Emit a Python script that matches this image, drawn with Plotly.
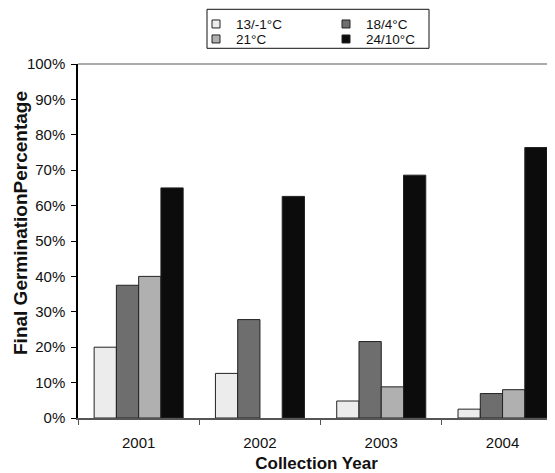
import plotly.graph_objects as go

years = ["2001", "2002", "2003", "2004"]
series_names = ["13/-1°C", "18/4°C", "21°C", "24/10°C"]
v_13_m1 = [20.0, 12.6, 4.8, 2.5]
v_18_4 = [37.5, 27.8, 21.6, 6.9]
v_21 = [40.0, None, 8.8, 8.0]
v_24_10 = [65.0, 62.6, 68.6, 76.4]
colors = ["#ececec", "#6e6e6e", "#b0b0b0", "#0c0c0c"]
y_ticks = [0, 10, 20, 30, 40, 50, 60, 70, 80, 90, 100]

FONT = "Liberation Sans, Arial, sans-serif"

OFF = 8  # page body margin
W, H = 555 - OFF, 473 - OFF
ML, MR, MT, MB = 78 - OFF, 0, 64 - OFF, 55
PW = W - ML - MR
PH = H - MT - MB


def px_x(p):
    return (p - OFF - ML) / PW


def px_y(p):
    return (H - MB - (p - OFF)) / PH


fig = go.Figure()
all_vals = [v_13_m1, v_18_4, v_21, v_24_10]
for name, vals, col in zip(series_names, all_vals, colors):
    fig.add_trace(go.Bar(
        x=years, y=vals, name=name,
        marker=dict(color=col, line=dict(color="#222222", width=1)),
        showlegend=False,
    ))

legend_ids = ["legend", "legend2", "legend3", "legend4"]
legend_pos = [(196, 24.2), (326, 24.2), (196, 39.2), (326, 39.2)]
for name, col, lid in zip(series_names, colors, legend_ids):
    fig.add_trace(go.Scatter(
        x=[None], y=[None], mode="markers", name=name,
        marker=dict(symbol="square", size=8, color=col,
                    line=dict(color="#222222", width=1)),
        legend=lid, showlegend=True,
    ))

legend_layout = {}
for lid, (lx, ly) in zip(legend_ids, legend_pos):
    legend_layout[lid] = dict(
        x=px_x(lx), y=px_y(ly), xanchor="left", yanchor="middle",
        orientation="v", bgcolor="rgba(0,0,0,0)", borderwidth=0,
        font=dict(family=FONT, size=13.5, color="#111111"),
        itemclick=False, itemdoubleclick=False,
    )

fig.update_layout(
    width=W, height=H,
    margin=dict(l=ML, r=MR, t=MT, b=MB, autoexpand=False),
    paper_bgcolor="white", plot_bgcolor="white",
    barmode="group", bargap=0.266, bargroupgap=0,
    font=dict(family=FONT, size=14, color="#111111"),
    **legend_layout,
    xaxis=dict(
        type="category",
        range=[-0.5, -0.5 + PW / 121.3],
        showline=True, linecolor="#555555", linewidth=2,
        ticks="outside", tickson="boundaries", ticklen=5, tickcolor="#555555",
        tickfont=dict(family=FONT, size=15, color="#111111"),
        ticklabelstandoff=10,
        showgrid=False, zeroline=False,
        title=dict(text="<b>Collection Year</b>", standoff=9,
                   font=dict(family=FONT, size=17, color="#111111")),
        automargin=False,
    ),
    yaxis=dict(
        range=[0, 100],
        tickvals=y_ticks, ticktext=[f"{v}%" for v in y_ticks],
        showline=True, linecolor="#000000", linewidth=1.5,
        ticks="outside", ticklen=5, tickcolor="#000000",
        tickfont=dict(family=FONT, size=15, color="#111111"),
        ticklabelstandoff=3,
        showgrid=False, zeroline=False,
        automargin=False,
    ),
    annotations=[
        dict(text="<b>Final GerminationPercentage</b>", textangle=-90,
             xref="paper", yref="paper", x=px_x(20.5), y=px_y(223.5),
             xanchor="center", yanchor="middle", showarrow=False,
             font=dict(family=FONT, size=19, color="#111111")),
    ],
    shapes=[
        dict(type="line", xref="paper", yref="paper", x0=0, x1=1, y0=1, y1=1,
             line=dict(color="#aaaaaa", width=2), layer="below"),
        dict(type="rect", xref="paper", yref="paper",
             x0=px_x(207), x1=px_x(429), y0=px_y(48.3), y1=px_y(9.3),
             line=dict(color="#111111", width=1), fillcolor="rgba(0,0,0,0)"),
    ],
)

fig.write_html("out.html")
